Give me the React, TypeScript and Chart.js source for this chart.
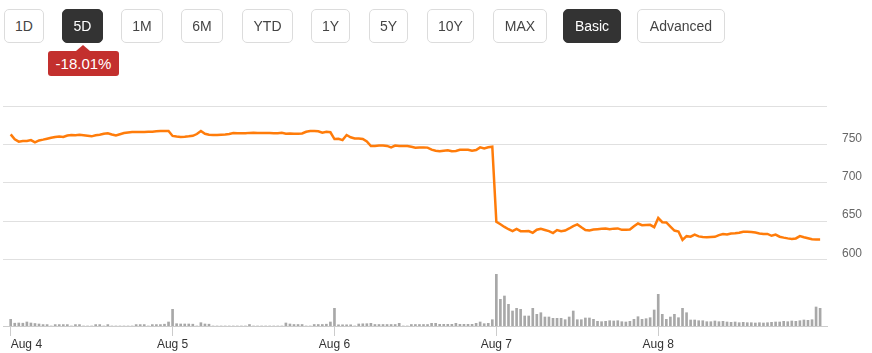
import React, { useEffect, useRef } from 'react';
import { Chart, registerables } from 'chart.js';

Chart.register(...registerables);

// ---- Data ----
const DAY_LABELS = ['Aug 4', 'Aug 5', 'Aug 6', 'Aug 7', 'Aug 8'];
const DAY_START = [0, 40, 80, 120, 160];
const PRICE_TICKS = [600, 650, 700, 750, 800];

const PRICE_AUG4 = [763, 756.5, 753.5, 754.3, 754.5, 755.6, 752.6, 755.2, 756.2, 757.4, 758.6, 759.5, 760.3, 759.6, 761.5, 762.2, 762.0, 762.4, 762.0, 761.2, 760.5, 762.0, 762.6, 763.8, 764.4, 762.8, 761.7, 763.2, 764.8, 765.4, 766.0, 766.1, 766.2, 766.3, 766.5, 766.6, 767.0, 767.3, 767.4, 767.4];
const PRICE_AUG5 = [761, 760.2, 759.7, 760.0, 760.5, 761.2, 763.5, 767.4, 763.8, 762.6, 762.3, 762.2, 762.6, 763.0, 763.6, 764.8, 764.6, 764.4, 764.6, 765.0, 765.2, 765.0, 764.8, 764.9, 764.7, 764.5, 764.4, 765.0, 764.0, 764.3, 764.0, 763.8, 764.3, 766.5, 767.4, 767.4, 767.0, 765.2, 766.5, 765.8];
const PRICE_AUG6 = [757, 757.4, 755.6, 762.2, 759.2, 757.8, 757.6, 757.0, 753.8, 747.8, 748.0, 748.4, 748.6, 748.0, 746.2, 748.5, 747.9, 747.8, 747.8, 746.8, 745.7, 746.0, 746.1, 745.8, 743.2, 741.8, 741.0, 741.8, 742.4, 741.0, 741.5, 743.1, 743.0, 743.1, 741.8, 742.6, 746.1, 744.8, 746.2, 747.0];
const PRICE_AUG7 = [649.3, 646.0, 642.5, 639.5, 637.0, 640.0, 637.0, 636.8, 637.2, 634.8, 638.8, 640.0, 638.6, 637.0, 634.5, 638.5, 637.0, 637.8, 640.5, 643.6, 645.8, 642.0, 638.6, 637.8, 639.1, 639.6, 640.2, 640.4, 639.6, 640.3, 640.6, 638.7, 638.9, 639.1, 643.4, 647.0, 644.8, 645.0, 645.2, 642.2];
const PRICE_AUG8 = [654.3, 648.7, 648.3, 643.0, 637.8, 636.6, 625.7, 630.5, 629.8, 632.4, 630.2, 629.5, 629.2, 629.4, 629.6, 631.8, 633.3, 632.6, 633.9, 634.2, 635.0, 636.3, 636.3, 636.0, 635.2, 634.0, 633.2, 633.4, 631.0, 632.6, 629.8, 628.6, 627.6, 626.9, 627.5, 630.5, 629.0, 627.8, 626.6, 626.1, 626.1];

const VOL_AUG4 = [67, 28, 30, 28, 40, 30, 25, 20, 14, 14, 0, 14, 14, 14, 14, 0, 14, 14, 0, 0, 0, 14, 14, 0, 14, 0, 0, 0, 0, 0, 0, 14, 14, 14, 0, 14, 14, 14, 18, 40];
const VOL_AUG5 = [167, 23, 20, 20, 20, 18, 0, 33, 20, 18, 0, 0, 0, 0, 0, 0, 0, 0, 0, 15, 0, 0, 0, 0, 0, 0, 0, 0, 30, 20, 15, 15, 15, 0, 0, 15, 15, 15, 18, 40];
const VOL_AUG6 = [177, 12, 12, 12, 12, 0, 20, 22, 23, 27, 15, 15, 15, 15, 15, 15, 27, 0, 0, 15, 15, 15, 15, 15, 27, 27, 17, 17, 17, 17, 27, 17, 17, 17, 17, 27, 40, 23, 27, 63];
const VOL_AUG7 = [517, 267, 300, 217, 150, 177, 167, 100, 100, 177, 117, 133, 90, 90, 77, 77, 77, 63, 90, 150, 63, 63, 80, 80, 67, 47, 43, 47, 53, 50, 53, 43, 40, 47, 67, 93, 67, 73, 83, 160];
const VOL_AUG8 = [317, 117, 67, 90, 117, 83, 177, 133, 60, 60, 53, 53, 43, 43, 50, 43, 47, 40, 37, 40, 33, 37, 33, 33, 30, 33, 30, 33, 37, 40, 40, 47, 43, 50, 47, 53, 60, 57, 63, 190, 177];

const RANGE_BUTTONS = ['1D', '5D', '1M', '6M', 'YTD', '1Y', '5Y', '10Y', 'MAX', 'Basic', 'Advanced'];
const ACTIVE = ['5D', 'Basic'];
const CHANGE_TEXT = '-18.01%';

// layout of buttons (px)
const BTN_LEFT = [4, 62, 121, 181, 242, 311, 369, 427, 493, 563, 637];
const BTN_WIDTH = [40, 41, 42, 42, 51, 39, 39, 47, 54, 58, 88];

const FONT = "'Liberation Sans', Arial, sans-serif";
const ORANGE = '#ff7c0a';

export default function App() {
  const ref = useRef<HTMLCanvasElement>(null);

  useEffect(() => {
    const prices = [...PRICE_AUG4, ...PRICE_AUG5, ...PRICE_AUG6, ...PRICE_AUG7, ...PRICE_AUG8];
    const vols = [...VOL_AUG4, ...VOL_AUG5, ...VOL_AUG6, ...VOL_AUG7, ...VOL_AUG8];
    const chart = new Chart(ref.current as HTMLCanvasElement, {
      data: {
        datasets: [
          {
            type: 'line',
            data: prices.map((y, i) => ({ x: i, y })),
            borderColor: ORANGE,
            borderWidth: 2.5,
            pointRadius: 0,
            tension: 0,
            yAxisID: 'y',
            order: 0,
          } as any,
          {
            type: 'bar',
            data: vols.map((y, i) => ({ x: i, y })),
            backgroundColor: '#a8a8a8',
            barThickness: 2,
            yAxisID: 'yv',
            order: 1,
          } as any,
        ],
      },
      options: {
        responsive: false,
        animation: false,
        devicePixelRatio: 1,
        layout: { padding: { left: 3, right: 0, top: 106, bottom: 0 } },
        plugins: { legend: { display: false }, tooltip: { enabled: false } },
        scales: {
          x: {
            type: 'linear',
            min: -1.9,
            max: 201.7,
            offset: false,
            afterBuildTicks: (s: any) => {
              s.ticks = [...DAY_START.map((v) => ({ value: v })), { value: 201.7 }];
            },
            afterFit: (s: any) => {
              s.height = 27;
              s.paddingLeft = 0;
              s.paddingRight = 0;
            },
            ticks: {
              callback: (_v: any, idx: number) => DAY_LABELS[idx] ?? '',
              align: 'inner',
              autoSkip: false,
              maxRotation: 0,
              padding: 1,
              color: '#333',
              font: { family: FONT, size: 12 },
            },
            grid: {
              offset: false,
              drawOnChartArea: false,
              drawTicks: true,
              tickLength: 10,
              tickColor: (ctx: any) => (ctx.index < 5 ? '#cccccc' : 'rgba(0,0,0,0)'),
            },
            border: { display: true, color: '#cccccc', width: 1 },
          } as any,
          y: {
            position: 'right',
            min: 513.5,
            max: 800,
            afterBuildTicks: (s: any) => {
              s.ticks = PRICE_TICKS.map((v) => ({ value: v }));
            },
            afterFit: (s: any) => {
              s.width = 45;
              s.paddingTop = 0;
              s.paddingBottom = 0;
            },
            ticks: {
              callback: (v: any) => (v === 800 ? '' : String(v)),
              padding: 15,
              labelOffset: -6,
              color: '#666',
              font: { family: FONT, size: 12 },
            },
            grid: { color: '#e0e0e0', drawTicks: false },
            border: { display: false },
          } as any,
          yv: { display: false, min: 0, max: 2200 } as any,
        },
      },
    });
    return () => chart.destroy();
  }, []);

  return (
    <div style={{ position: 'absolute', left: 0, top: 0, width: 872, height: 353, fontFamily: FONT, background: '#fff' }}>
      <canvas ref={ref} width={872} height={353} style={{ position: 'absolute', left: 0, top: 0, width: 872, height: 353 }} />
      {RANGE_BUTTONS.map((b, i) => {
        const active = ACTIVE.includes(b);
        return (
          <div
            key={b}
            style={{
              position: 'absolute',
              left: BTN_LEFT[i],
              top: 9,
              width: BTN_WIDTH[i],
              height: 34,
              boxSizing: 'border-box',
              border: active ? '1px solid #333' : '1px solid #dcdcdc',
              borderRadius: 5,
              background: active ? '#333' : '#fff',
              color: active ? '#fff' : '#444',
              fontSize: 14,
              lineHeight: '32px',
              textAlign: 'center',
            }}
          >
            {b}
          </div>
        );
      })}
      <div
        style={{
          position: 'absolute',
          left: 76,
          top: 45,
          width: 0,
          height: 0,
          borderLeft: '7px solid transparent',
          borderRight: '7px solid transparent',
          borderBottom: '6px solid #c3302e',
        }}
      />
      <div
        style={{
          position: 'absolute',
          left: 48,
          top: 51,
          width: 71,
          height: 25,
          borderRadius: 3,
          background: '#c3302e',
          color: '#fff',
          fontSize: 15,
          lineHeight: '25px',
          textAlign: 'center',
        }}
      >
        {CHANGE_TEXT}
      </div>
    </div>
  );
}
